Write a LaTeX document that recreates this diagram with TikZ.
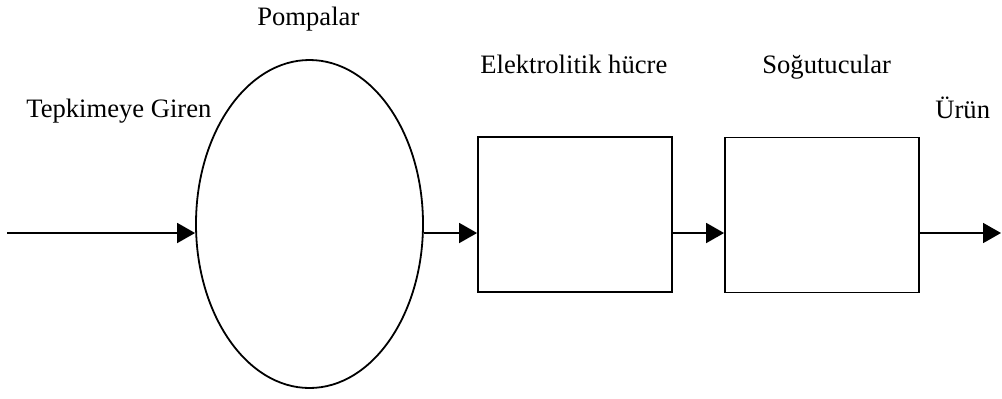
\documentclass[tikz,border=0pt]{standalone}
\usepackage{fontspec}
\setmainfont{Liberation Serif}
\usetikzlibrary{arrows.meta,shapes.geometric}
\tikzset{
  lbl/.style={anchor=base west,inner sep=0pt,font=\fontsize{13.3}{16}\selectfont},
  stage/.style={draw,line width=0.9pt,rectangle,minimum width=97pt,minimum height=77.5pt,inner sep=0pt},
  pumpshape/.style={draw,line width=0.9pt,ellipse,minimum width=113.5pt,minimum height=164pt,inner sep=0pt},
  arr/.style={line width=0.9pt,-{Triangle[length=9pt,width=10pt]}}
}
\begin{document}
\begin{tikzpicture}[x=0.5pt,y=-0.5pt]
\useasboundingbox (0,0) rectangle (1002,398);
\node[pumpshape] (pump) at (309.5,224) {};
\node[stage] (cell) at (575,214.5) {};
\node[stage] (cool) at (822,215) {};
\coordinate (in) at (7,233);
\coordinate (out) at (1001,233);
\node[lbl] (tin) at (26,117) {Tepkimeye Giren};
\node[lbl] (tpump) at (257,25) {Pompalar};
\node[lbl] (tcell) at (480,73) {Elektrolitik hücre};
\node[lbl] (tcool) at (762,73) {Soğutucular};
\node[lbl] (tout) at (935,118) {Ürün};
\draw[arr] (in) -- (pump.west |- in);
\draw[arr] (pump.east |- in) -- (cell.west |- in);
\draw[arr] (cell.east |- in) -- (cool.west |- in);
\draw[arr] (cool.east |- in) -- (out);
\end{tikzpicture}
\end{document}
